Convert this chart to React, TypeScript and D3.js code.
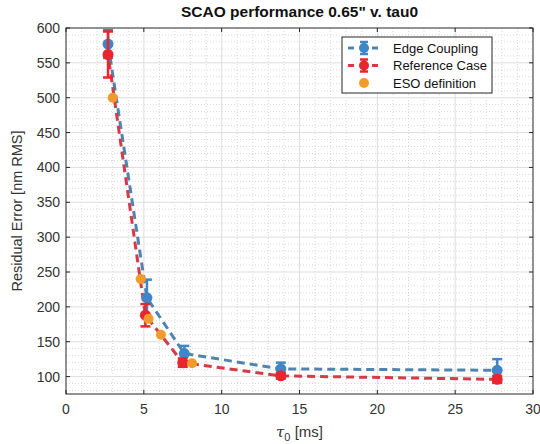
import React from "react";
import * as d3 from "d3";

const edgeX = [2.7, 5.2, 7.6, 13.8, 27.7];
const edgeY = [577, 213, 133, 111, 109];
const edgeErr = [20, 26, 11, 9, 16];

const refX = [2.7, 5.1, 7.5, 13.8, 27.7];
const refY = [562, 188, 120, 101, 96];
const refErr = [33, 16, 6, 4, 5];

const esoX = [3.0, 4.8, 5.3, 6.1, 8.1];
const esoY = [500, 240, 183, 160, 119];

const xTicks = [0, 5, 10, 15, 20, 25, 30];
const yTicks = [100, 150, 200, 250, 300, 350, 400, 450, 500, 550, 600];

const W = 540, H = 444;
const L = 66, R = 533, T = 28, B = 394;

export default function App() {
  const x = d3.scaleLinear().domain([0, 30]).range([L, R]);
  const y = d3.scaleLinear().domain([75, 600]).range([B, T]);
  const line = d3.line<[number, number]>().x(d => x(d[0])).y(d => y(d[1]));
  const blue = "#3f86c4", blueLine = "#5084b0";
  const red = "#e8262e", redLine = "#d43a48";
  const orange = "#f39b2a";
  const font = "'Liberation Sans', Arial, sans-serif";
  const xMinor = d3.range(0, 31, 1);
  const yMinor = d3.range(80, 601, 10);

  const errBars = (xs: number[], ys: number[], es: number[], color: string) =>
    xs.map((xv, i) => (
      <g key={i} stroke={color} strokeWidth={2.5}>
        <line x1={x(xv)} x2={x(xv)} y1={y(ys[i] - es[i])} y2={y(ys[i] + es[i])} />
        <line x1={x(xv) - 5} x2={x(xv) + 5} y1={y(ys[i] - es[i])} y2={y(ys[i] - es[i])} />
        <line x1={x(xv) - 5} x2={x(xv) + 5} y1={y(ys[i] + es[i])} y2={y(ys[i] + es[i])} />
      </g>
    ));

  return (
    <svg width={W} height={H} style={{ position: "absolute", left: 0, top: 0, background: "#fff" }} fontFamily={font}>
      <rect x={0} y={0} width={W} height={H} fill="#fff" />
      <rect x={L} y={T} width={R - L} height={B - T} fill="#fff" />
      {/* minor grid */}
      {xMinor.filter(v => v % 5 !== 0).map(v => (
        <line key={"xm" + v} x1={x(v)} x2={x(v)} y1={T} y2={B} stroke="#c8c8c8" strokeWidth={0.7} strokeDasharray="1,2" />
      ))}
      {yMinor.filter(v => v % 50 !== 0).map(v => (
        <line key={"ym" + v} x1={L} x2={R} y1={y(v)} y2={y(v)} stroke="#c8c8c8" strokeWidth={0.7} strokeDasharray="1,2" />
      ))}
      {/* major grid */}
      {xTicks.slice(1, -1).map(v => (
        <line key={"xg" + v} x1={x(v)} x2={x(v)} y1={T} y2={B} stroke="#dedede" strokeWidth={1} />
      ))}
      {yTicks.slice(0, -1).map(v => (
        <line key={"yg" + v} x1={L} x2={R} y1={y(v)} y2={y(v)} stroke="#dedede" strokeWidth={1} />
      ))}
      {/* lines */}
      <path d={line(edgeX.map((v, i) => [v, edgeY[i]]) as any) || ""} fill="none" stroke={blueLine} strokeWidth={3} strokeDasharray="8,5" />
      <path d={line(refX.map((v, i) => [v, refY[i]]) as any) || ""} fill="none" stroke={redLine} strokeWidth={3} strokeDasharray="8,5" strokeDashoffset={6} />
      {/* error bars and markers */}
      {errBars(edgeX, edgeY, edgeErr, blue)}
      {edgeX.map((v, i) => <circle key={"eb" + i} cx={x(v)} cy={y(edgeY[i])} r={5.5} fill={blue} />)}
      {errBars(refX, refY, refErr, red)}
      {refX.map((v, i) => <circle key={"rb" + i} cx={x(v)} cy={y(refY[i])} r={5.5} fill={red} />)}
      {esoX.map((v, i) => <circle key={"es" + i} cx={x(v)} cy={y(esoY[i])} r={5} fill={orange} />)}
      {/* axes box */}
      <rect x={L} y={T} width={R - L} height={B - T} fill="none" stroke="#262626" strokeWidth={1} />
      {/* ticks */}
      {xTicks.map(v => (
        <g key={"xt" + v}>
          <line x1={x(v)} x2={x(v)} y1={B} y2={B - 4} stroke="#262626" />
          <line x1={x(v)} x2={x(v)} y1={T} y2={T + 4} stroke="#262626" />
          <text x={x(v)} y={B + 20} textAnchor="middle" fontSize={14} fill="#333">{v}</text>
        </g>
      ))}
      {yTicks.map(v => (
        <g key={"yt" + v}>
          <line x1={L} x2={L + 4} y1={y(v)} y2={y(v)} stroke="#262626" />
          <line x1={R} x2={R - 4} y1={y(v)} y2={y(v)} stroke="#262626" />
          <text x={L - 6} y={y(v) + 5} textAnchor="end" fontSize={14} fill="#333">{v}</text>
        </g>
      ))}
      {/* title and labels */}
      <text x={(L + R) / 2} y={17} textAnchor="middle" fontSize={15.5} fontWeight="bold" fill="#111">SCAO performance 0.65" v. tau0</text>
      <text transform={`translate(22,${(T + B) / 2}) rotate(-90)`} textAnchor="middle" fontSize={14.5} fill="#333">Residual Error [nm RMS]</text>
      <text x={(L + R) / 2} y={437} textAnchor="middle" fontSize={15} fill="#333">
        <tspan fontStyle="italic" fontFamily="'DejaVu Serif', serif">τ</tspan>
        <tspan fontSize={11} dy={4}>0</tspan>
        <tspan dy={-4}> [ms]</tspan>
      </text>
      {/* legend */}
      <g>
        <rect x={342} y={37} width={150} height={56} fill="#fff" stroke="#262626" strokeWidth={1} />
        {[
          { label: "Edge Coupling", c: blue, lc: blueLine, err: true },
          { label: "Reference Case", c: red, lc: redLine, err: true },
          { label: "ESO definition", c: orange, lc: null, err: false },
        ].map((e, i) => {
          const cy = 48 + i * 17.5;
          return (
            <g key={e.label}>
              {e.lc && <line x1={348} x2={380} y1={cy} y2={cy} stroke={e.lc} strokeWidth={3} strokeDasharray="6,6" />}
              {e.err && (
                <g stroke={e.c} strokeWidth={2.5}>
                  <line x1={364} x2={364} y1={cy - 6} y2={cy + 6} />
                  <line x1={360} x2={368} y1={cy - 6} y2={cy - 6} />
                  <line x1={360} x2={368} y1={cy + 6} y2={cy + 6} />
                </g>
              )}
              <circle cx={364} cy={cy} r={5} fill={e.c} />
              <text x={393} y={cy + 4.5} fontSize={13} fill="#111">{e.label}</text>
            </g>
          );
        })}
      </g>
    </svg>
  );
}
